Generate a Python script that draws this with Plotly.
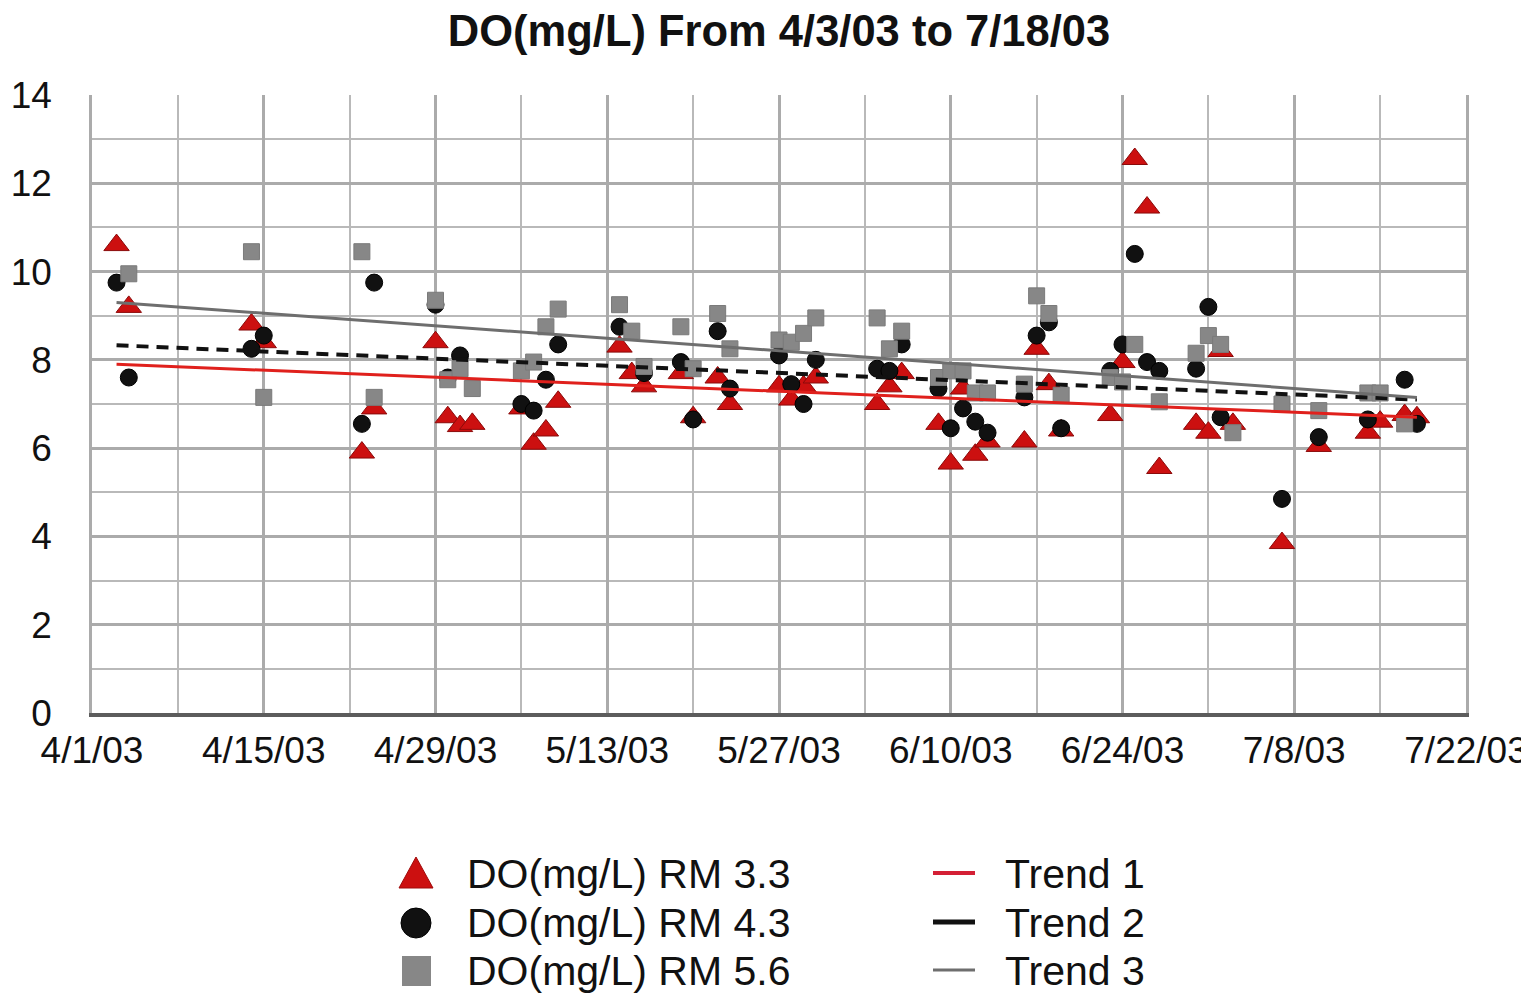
import plotly.graph_objects as go

# ---------------- data ----------------
rm33_dates = ["2003-04-03","2003-04-04","2003-04-14","2003-04-15","2003-04-23","2003-04-24",
              "2003-04-29","2003-04-30","2003-05-01","2003-05-02","2003-05-06","2003-05-07",
              "2003-05-08","2003-05-09","2003-05-14","2003-05-15","2003-05-16","2003-05-19",
              "2003-05-20","2003-05-22","2003-05-23","2003-05-27","2003-05-28","2003-05-29",
              "2003-05-30","2003-06-04","2003-06-05","2003-06-06","2003-06-09","2003-06-10",
              "2003-06-11","2003-06-12","2003-06-13","2003-06-16","2003-06-17","2003-06-18",
              "2003-06-19","2003-06-23","2003-06-24","2003-06-25","2003-06-26","2003-06-27",
              "2003-06-30","2003-07-01","2003-07-02","2003-07-03","2003-07-07","2003-07-10",
              "2003-07-14","2003-07-15","2003-07-17","2003-07-18"]
rm33_vals = [10.6, 9.2, 8.8, 8.4, 5.9, 6.9,
             8.4, 6.7, 6.5, 6.55, 6.9, 6.1,
             6.4, 7.05, 8.3, 7.7, 7.4, 7.7,
             6.7, 7.6, 7.0, 7.4, 7.1, 7.4,
             7.6, 7.0, 7.4, 7.7, 6.55, 5.65,
             7.35, 5.85, 6.15, 6.15, 8.25, 7.45,
             6.4, 6.75, 7.95, 12.55, 11.45, 5.55,
             6.55, 6.35, 8.2, 6.55, 3.85, 6.05,
             6.35, 6.6, 6.75, 6.7]

rm43_dates = ["2003-04-03","2003-04-04","2003-04-14","2003-04-15","2003-04-23","2003-04-24",
              "2003-04-29","2003-04-30","2003-05-01","2003-05-06","2003-05-07","2003-05-08",
              "2003-05-09","2003-05-14","2003-05-16","2003-05-19","2003-05-20","2003-05-22",
              "2003-05-23","2003-05-27","2003-05-28","2003-05-29","2003-05-30","2003-06-04",
              "2003-06-05","2003-06-06","2003-06-09","2003-06-10","2003-06-11","2003-06-12",
              "2003-06-13","2003-06-16","2003-06-17","2003-06-18","2003-06-19","2003-06-23",
              "2003-06-24","2003-06-25","2003-06-26","2003-06-27","2003-06-30","2003-07-01",
              "2003-07-02","2003-07-07","2003-07-10","2003-07-14","2003-07-17","2003-07-18"]
rm43_vals = [9.75, 7.6, 8.25, 8.55, 6.55, 9.75,
             9.25, 7.6, 8.1, 7.0, 6.85, 7.55,
             8.35, 8.75, 7.7, 7.95, 6.65, 8.65,
             7.35, 8.1, 7.45, 7.0, 8.0, 7.8,
             7.75, 8.35, 7.35, 6.45, 6.9, 6.6,
             6.35, 7.15, 8.55, 8.85, 6.45, 7.75,
             8.35, 10.4, 7.95, 7.75, 7.8, 9.2,
             6.7, 4.85, 6.25, 6.65, 7.55, 6.55]

rm56_dates = ["2003-04-04","2003-04-14","2003-04-15","2003-04-23","2003-04-24","2003-04-29",
              "2003-04-30","2003-05-01","2003-05-02","2003-05-06","2003-05-07","2003-05-08",
              "2003-05-09","2003-05-14","2003-05-15","2003-05-16","2003-05-19","2003-05-20",
              "2003-05-22","2003-05-23","2003-05-27","2003-05-28","2003-05-29","2003-05-30",
              "2003-06-04","2003-06-05","2003-06-06","2003-06-09","2003-06-10","2003-06-11",
              "2003-06-12","2003-06-13","2003-06-16","2003-06-17","2003-06-18","2003-06-19",
              "2003-06-23","2003-06-24","2003-06-25","2003-06-27","2003-06-30","2003-07-01",
              "2003-07-02","2003-07-03","2003-07-07","2003-07-10","2003-07-14","2003-07-15",
              "2003-07-17"]
rm56_vals = [9.95, 10.45, 7.15, 10.45, 7.15, 9.35,
             7.55, 7.8, 7.35, 7.75, 7.95, 8.75,
             9.15, 9.25, 8.65, 7.85, 8.75, 7.8,
             9.05, 8.25, 8.45, 8.4, 8.6, 8.95,
             8.95, 8.25, 8.65, 7.6, 7.75, 7.75,
             7.25, 7.25, 7.45, 9.45, 9.05, 7.2,
             7.6, 7.5, 8.35, 7.05, 8.15, 8.55,
             8.35, 6.35, 7.0, 6.85, 7.25, 7.25,
             6.55]

trend_dates = ["2003-04-03", "2003-07-18"]
trend1_vals = [7.9, 6.7]
trend2_vals = [8.33, 7.1]
trend3_vals = [9.3, 7.15]

x_range = ["2003-04-01", "2003-07-22"]
title_text = "DO(mg/L) From 4/3/03 to 7/18/03"
series_names = ["DO(mg/L) RM 3.3", "DO(mg/L) RM 4.3", "DO(mg/L) RM 5.6"]
trend_names = ["Trend 1", "Trend 2", "Trend 3"]

# ---------------- figure ----------------
FONT = "Liberation Sans, Arial, Helvetica, sans-serif"
DAY = 86400000
OFF = 8                       # default body margin of the html page
W, H = 1529 - OFF, 993 - OFF
# plot area in screenshot pixels: x 92..1466, y 95..713
L, R, T, B = 92 - OFF, 1529 - 1466, 95 - OFF, 993 - 713
PW, PH = 1466 - 92, 713 - 95

C_RED = "#cc1010"
C_BLACK = "#111111"
C_GRAY = "#878787"


def px(x):
    return (x - 92) / PW


def py(y):
    return (713 - y) / PH


fig = go.Figure()

fig.add_trace(go.Scatter(
    x=rm33_dates, y=rm33_vals, mode="markers", name=series_names[0],
    marker=dict(symbol="triangle-up", size=22, color=C_RED,
                line=dict(color="#8a0a0a", width=1)), showlegend=False))
fig.add_trace(go.Scatter(
    x=rm43_dates, y=rm43_vals, mode="markers", name=series_names[1],
    marker=dict(symbol="circle", size=17, color=C_BLACK,
                line=dict(color="#000000", width=1)), showlegend=False))
fig.add_trace(go.Scatter(
    x=rm56_dates, y=rm56_vals, mode="markers", name=series_names[2],
    marker=dict(symbol="square", size=16, color=C_GRAY,
                line=dict(color="#7a7a7a", width=1)), showlegend=False))

fig.add_trace(go.Scatter(
    x=trend_dates, y=trend1_vals, mode="lines", name=trend_names[0],
    line=dict(color="#e0201c", width=3), showlegend=False))
fig.add_trace(go.Scatter(
    x=trend_dates, y=trend2_vals, mode="lines", name=trend_names[1],
    line=dict(color="#111111", width=4, dash="12px,8px"), showlegend=False))
fig.add_trace(go.Scatter(
    x=trend_dates, y=trend3_vals, mode="lines", name=trend_names[2],
    line=dict(color="#6e6e6e", width=3), showlegend=False))

# ---------------- custom legend (symbols + real text) ----------------
shapes = []
annotations = []
row_y = [874, 923, 971]
shapes.append(dict(type="path", xref="paper", yref="paper",
                   path="M {a},{b} L {c},{d} L {e},{d} Z".format(
                       a=px(416), b=py(row_y[0] - 17), c=px(399), d=py(row_y[0] + 14), e=px(433)),
                   fillcolor=C_RED, line=dict(color="#a00a0a", width=1)))
shapes.append(dict(type="circle", xref="paper", yref="paper",
                   x0=px(401), x1=px(431), y0=py(row_y[1] - 15), y1=py(row_y[1] + 15),
                   fillcolor=C_BLACK, line=dict(color="#000000", width=1)))
shapes.append(dict(type="rect", xref="paper", yref="paper",
                   x0=px(402), x1=px(431), y0=py(row_y[2] - 15), y1=py(row_y[2] + 15),
                   fillcolor=C_GRAY, line=dict(color=C_GRAY, width=0)))
trend_styles = [("#d42035", 4), ("#111111", 5), ("#6e6e6e", 3)]
for (col, wd), yy in zip(trend_styles, row_y):
    shapes.append(dict(type="line", xref="paper", yref="paper",
                       x0=px(933), x1=px(975), y0=py(yy - 1), y1=py(yy - 1),
                       line=dict(color=col, width=wd)))

for name, yy in zip(series_names, row_y):
    annotations.append(dict(text=name, xref="paper", yref="paper",
                            x=px(465), y=py(yy), xanchor="left", yanchor="middle",
                            showarrow=False, font=dict(size=41, family=FONT, color="#111111")))
for name, yy in zip(trend_names, row_y):
    annotations.append(dict(text=name, xref="paper", yref="paper",
                            x=px(1003), y=py(yy), xanchor="left", yanchor="middle",
                            showarrow=False, font=dict(size=41, family=FONT, color="#111111")))

fig.update_layout(
    width=W, height=H,
    paper_bgcolor="white", plot_bgcolor="white",
    margin=dict(l=L, r=R, t=T, b=B, autoexpand=False),
    font=dict(family=FONT, color="#111111"),
    title=dict(text="<b>" + title_text + "</b>", x=0.5, xref="paper",
               y=1 - 23 / H, yref="container", yanchor="middle",
               font=dict(size=43.5, family=FONT, color="#111111")),
    showlegend=False,
    shapes=shapes,
    annotations=annotations,
)

fig.update_xaxes(
    type="date", range=x_range, automargin=False,
    tick0="2003-04-01", dtick=14 * DAY, tickformat="%-m/%-d/%y",
    tickfont=dict(size=37, family=FONT, color="#111111"),
    ticks="", ticklabelstandoff=2,
    showgrid=True, gridcolor="#ababab", gridwidth=2.5,
    minor=dict(dtick=7 * DAY, tick0="2003-04-01", showgrid=True,
               gridcolor="#b9b9b9", gridwidth=2),
    showline=True, linecolor="#5c5c5c", linewidth=4, mirror=False,
    zeroline=False,
)
fig.update_yaxes(
    range=[0, 14], dtick=2, tick0=0, automargin=False,
    tickfont=dict(size=37, family=FONT, color="#111111"),
    ticks="", ticklabelstandoff=30,
    showgrid=True, gridcolor="#ababab", gridwidth=2.5,
    minor=dict(dtick=1, showgrid=True, gridcolor="#b9b9b9", gridwidth=2),
    showline=True, linecolor="#ababab", linewidth=2.5, mirror=True,
    zeroline=False,
)

fig.write_html("out.html")
